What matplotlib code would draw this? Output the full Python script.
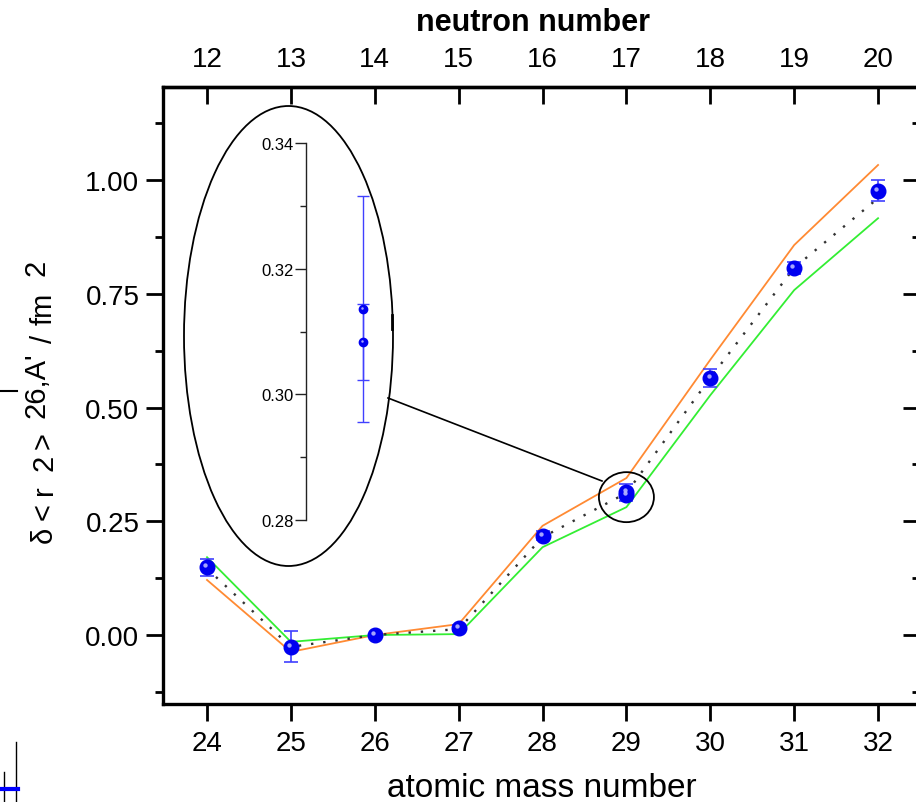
import matplotlib
matplotlib.use("Agg")
import matplotlib.pyplot as plt
from matplotlib.patches import Ellipse
from matplotlib.lines import Line2D
from matplotlib.transforms import ScaledTranslation
from matplotlib.ticker import MultipleLocator, FixedLocator, FormatStrFormatter

plt.rcParams['font.family'] = ['Liberation Sans', 'DejaVu Sans']

# Mg isotopes: mass number and measured change in mean-square charge radius
mass_number = [24, 25, 26, 27, 28, 29, 30, 31, 32]
delta_r2 = [0.149, -0.026, 0.0, 0.015, 0.218, 0.3136, 0.565, 0.807, 0.976]
delta_r2_err = [0.019, 0.034, 0.003, 0.006, 0.010, 0.018, 0.019, 0.013, 0.023]
# second value for A = 29
extra_mass = [29]
extra_r2 = [0.3083]
extra_err = [0.006]

# model curves
upper_curve = [0.121, -0.037, 0.0, 0.024, 0.240, 0.345, 0.605, 0.857, 1.033]
lower_curve = [0.171, -0.015, 0.0, 0.002, 0.193, 0.281, 0.527, 0.758, 0.916]
dotted_curve = [0.146, -0.026, 0.0, 0.013, 0.215, 0.312, 0.565, 0.807, 0.960]

neutron_ticks = [12, 13, 14, 15, 16, 17, 18, 19, 20]
y_ticks = [0.0, 0.25, 0.5, 0.75, 1.0]
inset_ticks = [0.28, 0.30, 0.32, 0.34]

W, H = 916, 803
fig = plt.figure(figsize=(W / 100, H / 100), dpi=100)

def fx(px):
    return px / W

def fy(py):
    return 1 - py / H

ax = fig.add_axes([fx(163), fy(705), fx(920 - 163), (705 - 88) / H])
ax.set_xlim(23.4754, 32.5)
ax.set_ylim(-0.1516, 1.2044)

ORANGE = '#ff8a33'
GREEN = '#33ee33'
BLUE = '#0000f0'
EBLUE = '#4040ff'

ax.plot(mass_number, upper_curve, color=ORANGE, lw=1.3, zorder=2)
ax.plot(mass_number, lower_curve, color=GREEN, lw=1.3, zorder=2)
ax.plot(mass_number, dotted_curve, color='#333333', lw=1.7,
        linestyle=(0, (1, 4.2)), zorder=2)

def draw_points(axis, x, y, e, ms, cap, elw):
    axis.errorbar(x, y, yerr=e, fmt='none', ecolor=EBLUE, elinewidth=elw,
                  capsize=cap, capthick=elw, zorder=3)
    axis.plot(x, y, 'o', color=BLUE, ms=ms, mec=BLUE, zorder=4)
    shift = ScaledTranslation(-ms * 0.12 / 72, ms * 0.15 / 72, fig.dpi_scale_trans)
    axis.plot(x, y, 'o', color='#b8b8ff', ms=ms * 0.3, mew=0, alpha=0.9,
              transform=axis.transData + shift, zorder=5)

draw_points(ax, mass_number, delta_r2, delta_r2_err, 10.5, 4.8, 1.2)
draw_points(ax, extra_mass, extra_r2, extra_err, 10.5, 4.8, 1.2)

# axes styling
for s in ax.spines.values():
    s.set_linewidth(2.4)
ax.set_xticks(mass_number)
ax.yaxis.set_major_locator(FixedLocator(y_ticks))
ax.yaxis.set_minor_locator(MultipleLocator(0.125))
ax.yaxis.set_major_formatter(FormatStrFormatter('%.2f'))
ax.tick_params(axis='x', which='both', direction='out', length=12, width=2,
               labelsize=20, pad=7, top=False)
ax.tick_params(axis='y', which='major', direction='out', length=12, width=2,
               labelsize=20, pad=5, right=False)
ax.tick_params(axis='y', which='minor', direction='out', length=6, width=2,
               right=False)
ax.set_xlabel('atomic mass number', fontsize=24, labelpad=11)

# neutron number scale on top (Z = 12)
top = ax.secondary_xaxis('top', functions=(lambda a: a - 12, lambda n: n + 12))
top.set_xticks(neutron_ticks)
top.tick_params(direction='in', length=12, width=2, labelsize=20, pad=11)
top.spines['top'].set_linewidth(2.4)
top.set_xlabel('neutron number', fontsize=22, fontweight='bold', labelpad=11)
top.xaxis.label.set_x(0.489)

right = ax.secondary_yaxis('right')
right.yaxis.set_major_locator(FixedLocator(y_ticks))
right.yaxis.set_minor_locator(MultipleLocator(0.125))
right.tick_params(which='major', direction='in', length=12, width=2, labelright=False)
right.tick_params(which='minor', direction='in', length=6, width=2, labelright=False)
right.spines['right'].set_linewidth(2.4)

# y-axis label built from pieces so the raised parts keep full size
label_pieces = [("δ", 543, 52), ("<", 520, 52), ("r", 495, 52), ("2", 471, 52),
                (">", 449, 52), ("26,A'", 418, 44), ("/", 343, 52), ("fm", 325, 52),
                ("2", 276, 44)]
for txt, ystart, xbase in label_pieces:
    fig.text(fx(xbase), fy(ystart), txt, fontsize=21, rotation=90,
             rotation_mode='anchor', ha='left', va='baseline')

# zoom circle around A = 29
ax.add_patch(Ellipse((29, 0.303), 55 / 83.875, 50 / 455, fill=False,
                     ec='black', lw=1.3, zorder=6))

# magnified view
iax = fig.add_axes([fx(306), fy(521), 113.4 / W, (521 - 144) / H])
iax.patch.set_alpha(0)
iax.set_xlim(28.5, 29.5)
iax.set_ylim(0.28, 0.34)
for side in ('top', 'right', 'bottom'):
    iax.spines[side].set_visible(False)
iax.spines['left'].set_linewidth(1.0)
iax.spines['left'].set_color('#222222')
iax.set_xticks([])
iax.yaxis.set_major_locator(FixedLocator(inset_ticks))
iax.yaxis.set_minor_locator(MultipleLocator(0.01))
iax.yaxis.set_major_formatter(FormatStrFormatter('%.2f'))
iax.tick_params(axis='y', which='major', direction='out', length=8, width=1,
                labelsize=12, pad=1, color='#222222')
iax.tick_params(axis='y', which='minor', direction='out', length=4, width=1,
                color='#222222')
draw_points(iax, mass_number[5:6], delta_r2[5:6], delta_r2_err[5:6], 6, 4, 1.0)
draw_points(iax, extra_mass, extra_r2, extra_err, 6, 4, 1.0)

fig.add_artist(Ellipse((fx(288.5), fy(337)), 209 / W, 460 / H, fill=False,
                       ec='black', lw=1.3, transform=fig.transFigure))
fig.add_artist(Line2D([fx(392), fx(392)], [fy(316), fy(330)], color='black',
                      lw=2.0, transform=fig.transFigure))
fig.add_artist(Line2D([fx(388), fx(602)], [fy(399), fy(482)], color='black',
                      lw=1.2, transform=fig.transFigure))

# fragments at the left margin
fig.add_artist(Line2D([fx(0), fx(17)], [fy(392), fy(392)], color='black', lw=1.5,
                      transform=fig.transFigure))
fig.add_artist(Line2D([fx(16), fx(16)], [fy(743), fy(803)], color='black', lw=1.0,
                      transform=fig.transFigure))
fig.add_artist(Line2D([fx(4), fx(4)], [fy(773), fy(803)], color='black', lw=1.0,
                      transform=fig.transFigure))
fig.add_artist(Line2D([fx(0), fx(18)], [fy(790), fy(790)], color='#0000ff', lw=3,
                      transform=fig.transFigure))

fig.savefig('out.png', dpi=100)
